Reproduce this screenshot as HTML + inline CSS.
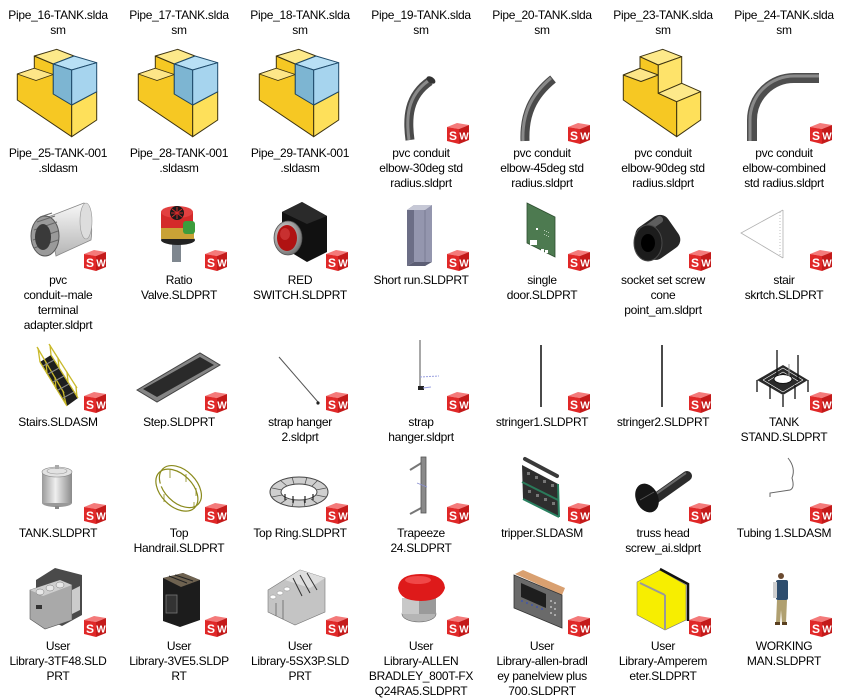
<!DOCTYPE html>
<html><head><meta charset="utf-8">
<style>
html,body{margin:0;padding:0;background:#fff;}
body{width:849px;height:698px;position:relative;overflow:hidden;}
.l{position:absolute;width:120px;text-align:center;font-family:"Liberation Sans",Arial,sans-serif;font-size:12px;line-height:15px;color:#000;white-space:nowrap;letter-spacing:-0.3px;}
svg{position:absolute;left:0;top:0;}
</style></head><body>
<svg width="849" height="698" viewBox="0 0 849 698" xmlns="http://www.w3.org/2000/svg">
<defs>
<linearGradient id="gcyl" x1="0" x2="1" y1="0" y2="0"><stop offset="0" stop-color="#9a9a9a"/><stop offset="0.45" stop-color="#efefef"/><stop offset="1" stop-color="#8a8a8a"/></linearGradient>
<linearGradient id="gwhite" x1="0" x2="0" y1="0" y2="1"><stop offset="0" stop-color="#f8f8f8"/><stop offset="1" stop-color="#b5b5b5"/></linearGradient>
<radialGradient id="gsilver" cx="0.4" cy="0.4" r="0.6"><stop offset="0" stop-color="#eee"/><stop offset="1" stop-color="#777"/></radialGradient>
</defs>

<!-- Row1 assembly icons -->
<g stroke-linejoin="round">
<polygon points="17.3,74 17.3,100 71.7,136.7 71.7,105 53.3,94 53.3,64 34.3,56 34.3,68.3" fill="#f6c823" stroke="#3d3310" stroke-width="1"/>
<polygon points="17.3,74 34.3,68.3 53.3,74.5 36,80.5" fill="#fde688" stroke="#3d3310" stroke-width="0.8"/>
<polygon points="34.3,56 56.7,49.3 74,56 53.3,64" fill="#fde98a" stroke="#3d3310" stroke-width="1"/>
<polygon points="71.7,105 96.7,91.7 96.7,120 71.7,136.7" fill="#fee05a" stroke="#3d3310" stroke-width="1"/>
<polygon points="53.3,64 74,56 96.7,62.7 71.7,70" fill="#b8e0f5" stroke="#1e4a6a" stroke-width="1"/>
<polygon points="53.3,64 71.7,70 71.7,105 53.3,94" fill="#7db5d2" stroke="#1e4a6a" stroke-width="1"/>
<polygon points="71.7,70 96.7,62.7 96.7,91.7 71.7,105" fill="#a6d4ee" stroke="#1e4a6a" stroke-width="1"/>
</g>
<g transform="translate(121,0)" stroke-linejoin="round">
<polygon points="17.3,74 17.3,100 71.7,136.7 71.7,105 53.3,94 53.3,64 34.3,56 34.3,68.3" fill="#f6c823" stroke="#3d3310" stroke-width="1"/>
<polygon points="17.3,74 34.3,68.3 53.3,74.5 36,80.5" fill="#fde688" stroke="#3d3310" stroke-width="0.8"/>
<polygon points="34.3,56 56.7,49.3 74,56 53.3,64" fill="#fde98a" stroke="#3d3310" stroke-width="1"/>
<polygon points="71.7,105 96.7,91.7 96.7,120 71.7,136.7" fill="#fee05a" stroke="#3d3310" stroke-width="1"/>
<polygon points="53.3,64 74,56 96.7,62.7 71.7,70" fill="#b8e0f5" stroke="#1e4a6a" stroke-width="1"/>
<polygon points="53.3,64 71.7,70 71.7,105 53.3,94" fill="#7db5d2" stroke="#1e4a6a" stroke-width="1"/>
<polygon points="71.7,70 96.7,62.7 96.7,91.7 71.7,105" fill="#a6d4ee" stroke="#1e4a6a" stroke-width="1"/>
</g>
<g transform="translate(242,0)" stroke-linejoin="round">
<polygon points="17.3,74 17.3,100 71.7,136.7 71.7,105 53.3,94 53.3,64 34.3,56 34.3,68.3" fill="#f6c823" stroke="#3d3310" stroke-width="1"/>
<polygon points="17.3,74 34.3,68.3 53.3,74.5 36,80.5" fill="#fde688" stroke="#3d3310" stroke-width="0.8"/>
<polygon points="34.3,56 56.7,49.3 74,56 53.3,64" fill="#fde98a" stroke="#3d3310" stroke-width="1"/>
<polygon points="71.7,105 96.7,91.7 96.7,120 71.7,136.7" fill="#fee05a" stroke="#3d3310" stroke-width="1"/>
<polygon points="53.3,64 74,56 96.7,62.7 71.7,70" fill="#b8e0f5" stroke="#1e4a6a" stroke-width="1"/>
<polygon points="53.3,64 71.7,70 71.7,105 53.3,94" fill="#7db5d2" stroke="#1e4a6a" stroke-width="1"/>
<polygon points="71.7,70 96.7,62.7 96.7,91.7 71.7,105" fill="#a6d4ee" stroke="#1e4a6a" stroke-width="1"/>
</g>

<!-- pvc elbows -->
<path d="M410 140 C407 118,408 96,430 81" stroke="#4a4a4a" stroke-width="9" fill="none"/>
<path d="M409 140 C406 118,407 96,428 81" stroke="#8a8a8a" stroke-width="3" fill="none"/>
<ellipse cx="431" cy="80" rx="5" ry="3" fill="#333" transform="rotate(35 431 80)"/>
<path d="M525 141 C524 115,532 96,553 79" stroke="#4a4a4a" stroke-width="9" fill="none"/>
<path d="M523 141 C522 115,530 96,551 78" stroke="#8a8a8a" stroke-width="3" fill="none"/>
<path d="M752 141 L752 120 A42 42 0 0 1 794 78 L819 78" stroke="#4e4e4e" stroke-width="10" fill="none"/>
<path d="M750 141 L750 120 A44 44 0 0 1 794 76 L819 76" stroke="#8a8a8a" stroke-width="3" fill="none"/>

<!-- yellow T part col5 -->
<g stroke="#3d3310" stroke-width="1" stroke-linejoin="round">
<polygon points="623.3,75 623.3,100 676.7,136.7 676.7,101.7 658.3,93.3 658.3,65 640,56.7 640,68.3" fill="#f6c823"/>
<polygon points="623.3,75 640,68.3 658.3,75 641,81.5" fill="#fde688"/>
<polygon points="640,56.7 662.7,49.3 681.7,56.7 658.3,65" fill="#fde98a"/>
<polygon points="658.3,65 681.7,56.7 681.7,83.3 658.3,93.3" fill="#fee36a"/>
<polygon points="658.3,93.3 681.7,83.3 700.7,91.7 676.7,101.7" fill="#fde98a"/>
<polygon points="676.7,101.7 700.7,91.7 700.7,120 676.7,136.7" fill="#fee05a"/>
</g>

<!-- Row2 icons -->
<!-- male adapter -->
<path d="M48 217 L84 203 Q94 220 91 240 L56 256 Z" fill="url(#gwhite)" stroke="#888" stroke-width="0.8"/>
<ellipse cx="86" cy="221" rx="6" ry="18" fill="#ddd" stroke="#999" stroke-width="0.6"/>
<ellipse cx="45" cy="236" rx="14" ry="20" fill="#9a9a9a" stroke="#555" stroke-width="1"/>
<g stroke="#666" stroke-width="1"><line x1="40" y1="217" x2="52" y2="213"/><line x1="37" y1="222" x2="55" y2="216"/><line x1="34" y1="230" x2="57" y2="222"/><line x1="33" y1="240" x2="58" y2="231"/><line x1="34" y1="248" x2="58" y2="240"/></g>
<ellipse cx="43" cy="237" rx="8" ry="13" fill="#3a3a3a"/>
<!-- ratio valve -->
<rect x="172" y="243" width="9" height="19" fill="#7f878f"/>
<ellipse cx="178" cy="240" rx="17" ry="5" fill="#222"/>
<rect x="161" y="226" width="33" height="13" fill="#c9a236"/>
<rect x="161" y="212" width="32" height="16" fill="#d42a2a"/>
<ellipse cx="177" cy="212" rx="16" ry="6" fill="#e24040"/>
<circle cx="177" cy="213" r="7" fill="#1a1a1a"/>
<g stroke="#d42a2a" stroke-width="1"><line x1="171" y1="213" x2="183" y2="213"/><line x1="177" y1="207" x2="177" y2="219"/><line x1="172" y1="209" x2="182" y2="217"/><line x1="182" y1="209" x2="172" y2="217"/></g>
<rect x="183" y="221" width="12" height="13" rx="3" fill="#3c9c3c"/>
<!-- red switch -->
<polygon points="282,212 302,202 327,216 327,252 307,262 282,247" fill="#111"/>
<polygon points="282,212 302,202 327,216 307,224" fill="#2a2a2a"/>
<ellipse cx="288" cy="238" rx="14" ry="17" fill="url(#gsilver)" stroke="#555" stroke-width="0.8"/>
<ellipse cx="287" cy="238" rx="10" ry="13" fill="#b01212"/>
<ellipse cx="285" cy="234" rx="5" ry="6" fill="#c83030"/>
<!-- short run -->
<polygon points="407,210 414,205 414,262 407,266" fill="#6c6e86"/>
<rect x="414" y="205" width="18" height="57" fill="#9496ae"/>
<polygon points="407,210 414,205 432,205 425,210" fill="#c6c8d6"/>
<line x1="425" y1="210" x2="425" y2="266" stroke="#7a7c94" stroke-width="1"/>
<polygon points="407,266 414,262 432,262 425,266" fill="#5c5e74"/>
<!-- single door -->
<polygon points="527,203 555,217 555,257 527,243" fill="#4d7a50" stroke="#2e4e30" stroke-width="0.8"/>
<g fill="#fff"><rect x="530" y="240" width="7" height="5"/><rect x="541" y="249" width="3" height="3"/><rect x="545" y="250" width="3" height="3"/><rect x="536" y="228" width="2" height="2"/></g>
<g fill="#b8cdb8"><rect x="544" y="230" width="1" height="1"/><rect x="546" y="231" width="1" height="1"/><rect x="548" y="232" width="1" height="1"/><rect x="544" y="234" width="1" height="1"/><rect x="546" y="235" width="1" height="1"/><rect x="548" y="236" width="1" height="1"/></g>
<!-- socket set screw -->
<g transform="rotate(-35 658 236)"><rect x="638" y="218" width="38" height="38" rx="10" fill="#262626"/><rect x="642" y="220" width="30" height="7" rx="3" fill="#5e5e5e"/></g>
<ellipse cx="648" cy="243" rx="14" ry="18" fill="#1c1c1c" stroke="#4a4a4a" stroke-width="1"/>
<ellipse cx="648" cy="243" rx="7" ry="9" fill="#000"/>
<!-- stair sketch -->
<g stroke="#b0b0b0" stroke-width="0.8" fill="none"><polyline points="783,210 741,233 783,258"/><line x1="783" y1="210" x2="783" y2="258"/><line x1="780" y1="212" x2="780" y2="256" stroke-dasharray="1,2"/></g>

<!-- Row3 icons -->
<!-- stairs -->
<polygon points="40,362 51,355 78,398 67,406" fill="#1e1e1e"/>
<g stroke="#c9b92a" stroke-width="1.3" fill="none"><line x1="37" y1="347" x2="64" y2="393"/><line x1="49" y1="344" x2="77" y2="388"/><line x1="40" y1="362" x2="67" y2="406"/><line x1="51" y1="355" x2="78" y2="398"/>
<line x1="38" y1="348" x2="40" y2="362"/><line x1="46" y1="362" x2="47" y2="374"/><line x1="55" y1="377" x2="56" y2="389"/><line x1="63" y1="391" x2="66" y2="404"/><line x1="50" y1="345" x2="51" y2="355"/><line x1="58" y1="358" x2="59" y2="368"/><line x1="67" y1="372" x2="68" y2="382"/><line x1="76" y1="387" x2="77" y2="397"/></g>
<g stroke="#888" stroke-width="1"><line x1="43" y1="366" x2="54" y2="360"/><line x1="48" y1="374" x2="59" y2="368"/><line x1="53" y1="382" x2="64" y2="376"/><line x1="58" y1="390" x2="69" y2="384"/><line x1="63" y1="398" x2="74" y2="392"/></g>
<!-- step -->
<polygon points="137,390 200,353 220,365 157,402" fill="#858585" stroke="#444" stroke-width="1"/>
<polygon points="143,389 200,357 214,365 157,397" fill="#2a2a2a"/>
<!-- strap hanger 2 -->
<line x1="279" y1="357" x2="318" y2="402" stroke="#555" stroke-width="1"/>
<circle cx="318" cy="403" r="1.6" fill="#222"/>
<!-- strap hanger -->
<line x1="420" y1="340" x2="420" y2="389" stroke="#8a8a8a" stroke-width="1.5"/>
<rect x="418" y="386" width="6" height="4" fill="#222"/>
<line x1="420" y1="377" x2="439" y2="376" stroke="#9aa0e0" stroke-width="1" stroke-dasharray="2,1"/>
<line x1="423" y1="388" x2="431" y2="387" stroke="#9aa0e0" stroke-width="1"/>
<!-- stringers -->
<line x1="541" y1="345" x2="541" y2="407" stroke="#4a4a4a" stroke-width="2"/>
<line x1="662" y1="345" x2="662" y2="407" stroke="#4a4a4a" stroke-width="2"/>
<!-- tank stand -->
<polygon points="757,380 783,365 808,380 783,395" fill="#2a2a2a"/>
<g stroke="#fff" stroke-width="0.6"><line x1="763" y1="380" x2="783" y2="368"/><line x1="768" y1="381" x2="783" y2="372"/><line x1="803" y1="380" x2="783" y2="368"/><line x1="798" y1="381" x2="783" y2="372"/><line x1="763" y1="380" x2="783" y2="392"/><line x1="803" y1="380" x2="783" y2="392"/></g>
<ellipse cx="783" cy="379" rx="9" ry="4.5" fill="#fff" stroke="#111" stroke-width="1"/>
<g stroke="#111" stroke-width="1.3"><line x1="757" y1="380" x2="757" y2="392"/><line x1="770" y1="385" x2="770" y2="399"/><line x1="783" y1="395" x2="783" y2="407"/><line x1="795" y1="385" x2="795" y2="399"/><line x1="808" y1="380" x2="808" y2="392"/><line x1="777" y1="350" x2="777" y2="375"/><line x1="798" y1="355" x2="798" y2="380"/></g>
<line x1="789" y1="364" x2="789" y2="376" stroke="#999" stroke-width="1"/>

<!-- Row4 icons -->
<!-- tank -->
<ellipse cx="57" cy="503" rx="15" ry="4" fill="#999"/>
<rect x="42" y="472" width="30" height="31" fill="url(#gcyl)"/>
<ellipse cx="57" cy="472" rx="15" ry="5" fill="#e2e2e2" stroke="#888" stroke-width="0.6"/>
<ellipse cx="57" cy="471" rx="10" ry="3" fill="none" stroke="#999" stroke-width="0.6"/>
<rect x="55" y="465" width="4" height="4" fill="#aaa"/>
<rect x="55" y="506" width="4" height="3" fill="#888"/>
<!-- top handrail -->
<g fill="none" stroke="#8a8a1c" stroke-width="1.2" transform="rotate(45 179 488)">
<ellipse cx="179" cy="486" rx="25" ry="16"/><ellipse cx="179" cy="491" rx="25" ry="16"/>
</g>
<g stroke="#8a8a1c" stroke-width="0.8"><line x1="170" y1="470" x2="170" y2="478"/><line x1="186" y1="474" x2="186" y2="482"/><line x1="196" y1="488" x2="196" y2="496"/><line x1="194" y1="502" x2="194" y2="509"/><line x1="164" y1="494" x2="164" y2="502"/></g>
<line x1="158" y1="486" x2="169" y2="482" stroke="#fff" stroke-width="3"/>
<!-- top ring -->
<path d="M270 492 A29 15 0 1 0 328 492 A29 15 0 1 0 270 492 Z M281 492 A18 8 0 1 1 317 492 A18 8 0 1 1 281 492 Z" fill="#cfcfcf" fill-rule="evenodd" stroke="#444" stroke-width="1"/>
<g stroke="#555" stroke-width="0.8"><line x1="272" y1="488" x2="282" y2="490"/><line x1="280" y1="480" x2="287" y2="486"/><line x1="292" y1="477" x2="294" y2="484"/><line x1="307" y1="477" x2="305" y2="484"/><line x1="318" y1="480" x2="312" y2="486"/><line x1="326" y1="488" x2="316" y2="490"/><line x1="326" y1="497" x2="316" y2="495"/><line x1="318" y1="504" x2="311" y2="499"/><line x1="305" y1="507" x2="304" y2="500"/><line x1="292" y1="507" x2="294" y2="500"/><line x1="280" y1="504" x2="287" y2="499"/><line x1="272" y1="497" x2="282" y2="495"/></g>
<g stroke="#222" stroke-width="1.2"><line x1="285" y1="494" x2="285" y2="500"/><line x1="293" y1="496" x2="293" y2="503"/><line x1="305" y1="496" x2="305" y2="503"/><line x1="313" y1="494" x2="313" y2="500"/></g>
<!-- trapeeze -->
<line x1="410" y1="470" x2="423" y2="462" stroke="#777" stroke-width="2"/>
<line x1="410" y1="514" x2="423" y2="507" stroke="#777" stroke-width="2"/>
<rect x="421" y="457" width="5" height="56" fill="#8a8a8a" stroke="#555" stroke-width="0.8"/>
<line x1="417" y1="483" x2="427" y2="487" stroke="#8a90d0" stroke-width="0.8"/>
<!-- tripper -->
<line x1="525" y1="459" x2="557" y2="476" stroke="#3a3a3a" stroke-width="4" stroke-linecap="round"/>
<polygon points="522,465 558,484 559,517 523,499" fill="#2e2e2e"/>
<line x1="523" y1="499" x2="559" y2="517" stroke="#2a8060" stroke-width="2"/>
<line x1="558" y1="484" x2="559" y2="517" stroke="#2a8060" stroke-width="2"/>
<line x1="522" y1="482" x2="558" y2="500" stroke="#2a7a5a" stroke-width="2"/>
<g fill="#777"><rect x="527" y="472" width="3" height="3"/><rect x="535" y="476" width="3" height="3"/><rect x="543" y="480" width="3" height="3"/><rect x="551" y="484" width="3" height="3"/><rect x="528" y="490" width="3" height="3"/><rect x="536" y="494" width="3" height="3"/><rect x="544" y="498" width="3" height="3"/><rect x="552" y="502" width="3" height="3"/></g>
<!-- truss head screw -->
<line x1="656" y1="498" x2="687" y2="476" stroke="#2c2c2c" stroke-width="10" stroke-linecap="round"/>
<line x1="656" y1="494" x2="686" y2="473" stroke="#6a6a6a" stroke-width="2"/>
<ellipse cx="647" cy="498" rx="11" ry="15" fill="#161616" transform="rotate(-25 647 498)"/>
<line x1="640" y1="500" x2="654" y2="492" stroke="#555" stroke-width="1"/>
<!-- tubing -->
<path d="M788 458 Q796 468 792 478 Q795 488 790 490 L770 493 L770 497" stroke="#666" stroke-width="1" fill="none"/>

<!-- Row5 icons -->
<!-- 3TF48 -->
<polygon points="36,580 55,568 82,575 82,615 62,626 36,614" fill="#4a4a4a"/>
<polygon points="30,590 60,580 72,585 72,620 45,629 30,619" fill="#a9a9a9" stroke="#555" stroke-width="0.6"/>
<polygon points="30,590 60,580 72,585 43,596" fill="#cfcfcf"/>
<g fill="#e8e8e8" stroke="#777" stroke-width="0.5"><ellipse cx="40" cy="592" rx="4" ry="3"/><ellipse cx="50" cy="588" rx="4" ry="3"/><ellipse cx="60" cy="585" rx="4" ry="3"/></g>
<rect x="36" y="605" width="6" height="4" fill="#333"/>
<polygon points="72,590 80,586 80,610 72,614" fill="#ccc"/>
<!-- 3VE5 -->
<polygon points="163,578 183,573 200,580 200,620 180,627 163,621" fill="#1c1c1c"/>
<polygon points="163,578 183,573 200,580 181,587" fill="#6e6250"/>
<g stroke="#222" stroke-width="1"><line x1="169" y1="576" x2="187" y2="583"/><line x1="175" y1="575" x2="193" y2="581"/></g>
<rect x="166" y="595" width="11" height="18" fill="#333" stroke="#777" stroke-width="0.8"/>
<!-- 5SX3P -->
<polygon points="268,590 300,570 325,578 325,612 295,625 268,612" fill="#c4c4c4" stroke="#777" stroke-width="0.6"/>
<polygon points="285,580 300,570 325,578 310,588" fill="#dedede"/>
<g stroke="#333" stroke-width="1"><line x1="293" y1="578" x2="302" y2="596"/><line x1="300" y1="575" x2="310" y2="593"/><line x1="307" y1="573" x2="317" y2="590"/></g>
<g fill="#fff" stroke="#888" stroke-width="0.5"><ellipse cx="273" cy="597" rx="3" ry="2"/><ellipse cx="280" cy="593" rx="3" ry="2"/><ellipse cx="287" cy="589" rx="3" ry="2"/></g>
<line x1="283" y1="600" x2="283" y2="619" stroke="#666" stroke-width="0.8"/>
<line x1="276" y1="603" x2="276" y2="616" stroke="#666" stroke-width="0.8"/>
<!-- Allen Bradley button -->
<ellipse cx="419" cy="614" rx="17" ry="8" fill="#b5b5b5" stroke="#666" stroke-width="0.6"/>
<rect x="402" y="598" width="34" height="16" fill="#9a9a9a"/>
<rect x="402" y="598" width="17" height="16" fill="#c8c8c8"/>
<path d="M398 588 Q399 574 421 574 Q444 574 445 588 Q441 601 421 601 Q400 601 398 588 Z" fill="#de1a1a"/>
<ellipse cx="418" cy="580" rx="13" ry="4" fill="#f04848"/>
<!-- panelview -->
<polygon points="515,574 523,570 565,588 562,595" fill="#d9a070"/>
<polygon points="514,575 562,595 562,628 514,608" fill="#6a6a6a" stroke="#333" stroke-width="0.8"/>
<polygon points="521,583 546,594 546,608 521,597" fill="#1e1e1e"/>
<g fill="#4a5a9a"><rect x="521" y="600" width="2" height="2"/><rect x="526" y="602" width="2" height="2"/><rect x="531" y="604" width="2" height="2"/><rect x="536" y="606" width="2" height="2"/><rect x="541" y="608" width="2" height="2"/></g>
<g fill="#aaa"><rect x="550" y="600" width="2" height="2"/><rect x="554" y="602" width="2" height="2"/><rect x="550" y="606" width="2" height="2"/><rect x="554" y="608" width="2" height="2"/><rect x="550" y="612" width="2" height="2"/><rect x="554" y="614" width="2" height="2"/></g>
<!-- amperemeter -->
<polygon points="637,582 660,570 686,585 686,620 665,630 637,615" fill="#f7ee00" stroke="#777" stroke-width="0.6"/>
<line x1="640" y1="583" x2="665" y2="595" stroke="#999" stroke-width="2"/>
<line x1="665" y1="595" x2="665" y2="629" stroke="#999" stroke-width="2"/>
<polyline points="660,569 688,584 688,621" fill="none" stroke="#111" stroke-width="2.5"/>
<!-- working man -->
<circle cx="781" cy="576" r="3" fill="#6b4a30"/>
<rect x="776" y="580" width="12" height="20" rx="2" fill="#2d4d6d"/>
<rect x="773" y="582" width="4" height="16" fill="#cfcfcf"/>
<polygon points="777,600 787,600 786,623 782,623 781,610 780,623 776,623" fill="#b0a070"/>
<rect x="775" y="622" width="5" height="3" fill="#5a4020"/>
<rect x="782" y="622" width="5" height="3" fill="#5a4020"/>

<!-- SW badges -->
<g font-family="Liberation Sans, Arial, sans-serif" font-weight="bold" fill="#fff" text-anchor="middle">
<g transform="translate(446,121)"><polygon points="1,6 11,2 23,4 13,8" fill="#f47a7a"/><polygon points="1,6 13,8 13,23 1,20" fill="#e02828"/><polygon points="13,8 23,4 23,19 13,23" fill="#c41a1a"/><text x="7" y="19" font-size="12">S</text><text x="18" y="18.5" font-size="10">W</text></g>
<g transform="translate(567,121)"><polygon points="1,6 11,2 23,4 13,8" fill="#f47a7a"/><polygon points="1,6 13,8 13,23 1,20" fill="#e02828"/><polygon points="13,8 23,4 23,19 13,23" fill="#c41a1a"/><text x="7" y="19" font-size="12">S</text><text x="18" y="18.5" font-size="10">W</text></g>
<g transform="translate(809,121)"><polygon points="1,6 11,2 23,4 13,8" fill="#f47a7a"/><polygon points="1,6 13,8 13,23 1,20" fill="#e02828"/><polygon points="13,8 23,4 23,19 13,23" fill="#c41a1a"/><text x="7" y="19" font-size="12">S</text><text x="18" y="18.5" font-size="10">W</text></g>

<g transform="translate(83,248)"><polygon points="1,6 11,2 23,4 13,8" fill="#f47a7a"/><polygon points="1,6 13,8 13,23 1,20" fill="#e02828"/><polygon points="13,8 23,4 23,19 13,23" fill="#c41a1a"/><text x="7" y="19" font-size="12">S</text><text x="18" y="18.5" font-size="10">W</text></g>
<g transform="translate(204,248)"><polygon points="1,6 11,2 23,4 13,8" fill="#f47a7a"/><polygon points="1,6 13,8 13,23 1,20" fill="#e02828"/><polygon points="13,8 23,4 23,19 13,23" fill="#c41a1a"/><text x="7" y="19" font-size="12">S</text><text x="18" y="18.5" font-size="10">W</text></g>
<g transform="translate(325,248)"><polygon points="1,6 11,2 23,4 13,8" fill="#f47a7a"/><polygon points="1,6 13,8 13,23 1,20" fill="#e02828"/><polygon points="13,8 23,4 23,19 13,23" fill="#c41a1a"/><text x="7" y="19" font-size="12">S</text><text x="18" y="18.5" font-size="10">W</text></g>
<g transform="translate(446,248)"><polygon points="1,6 11,2 23,4 13,8" fill="#f47a7a"/><polygon points="1,6 13,8 13,23 1,20" fill="#e02828"/><polygon points="13,8 23,4 23,19 13,23" fill="#c41a1a"/><text x="7" y="19" font-size="12">S</text><text x="18" y="18.5" font-size="10">W</text></g>
<g transform="translate(567,248)"><polygon points="1,6 11,2 23,4 13,8" fill="#f47a7a"/><polygon points="1,6 13,8 13,23 1,20" fill="#e02828"/><polygon points="13,8 23,4 23,19 13,23" fill="#c41a1a"/><text x="7" y="19" font-size="12">S</text><text x="18" y="18.5" font-size="10">W</text></g>
<g transform="translate(688,248)"><polygon points="1,6 11,2 23,4 13,8" fill="#f47a7a"/><polygon points="1,6 13,8 13,23 1,20" fill="#e02828"/><polygon points="13,8 23,4 23,19 13,23" fill="#c41a1a"/><text x="7" y="19" font-size="12">S</text><text x="18" y="18.5" font-size="10">W</text></g>
<g transform="translate(809,248)"><polygon points="1,6 11,2 23,4 13,8" fill="#f47a7a"/><polygon points="1,6 13,8 13,23 1,20" fill="#e02828"/><polygon points="13,8 23,4 23,19 13,23" fill="#c41a1a"/><text x="7" y="19" font-size="12">S</text><text x="18" y="18.5" font-size="10">W</text></g>

<g transform="translate(83,390)"><polygon points="1,6 11,2 23,4 13,8" fill="#f47a7a"/><polygon points="1,6 13,8 13,23 1,20" fill="#e02828"/><polygon points="13,8 23,4 23,19 13,23" fill="#c41a1a"/><text x="7" y="19" font-size="12">S</text><text x="18" y="18.5" font-size="10">W</text></g>
<g transform="translate(204,390)"><polygon points="1,6 11,2 23,4 13,8" fill="#f47a7a"/><polygon points="1,6 13,8 13,23 1,20" fill="#e02828"/><polygon points="13,8 23,4 23,19 13,23" fill="#c41a1a"/><text x="7" y="19" font-size="12">S</text><text x="18" y="18.5" font-size="10">W</text></g>
<g transform="translate(325,390)"><polygon points="1,6 11,2 23,4 13,8" fill="#f47a7a"/><polygon points="1,6 13,8 13,23 1,20" fill="#e02828"/><polygon points="13,8 23,4 23,19 13,23" fill="#c41a1a"/><text x="7" y="19" font-size="12">S</text><text x="18" y="18.5" font-size="10">W</text></g>
<g transform="translate(446,390)"><polygon points="1,6 11,2 23,4 13,8" fill="#f47a7a"/><polygon points="1,6 13,8 13,23 1,20" fill="#e02828"/><polygon points="13,8 23,4 23,19 13,23" fill="#c41a1a"/><text x="7" y="19" font-size="12">S</text><text x="18" y="18.5" font-size="10">W</text></g>
<g transform="translate(567,390)"><polygon points="1,6 11,2 23,4 13,8" fill="#f47a7a"/><polygon points="1,6 13,8 13,23 1,20" fill="#e02828"/><polygon points="13,8 23,4 23,19 13,23" fill="#c41a1a"/><text x="7" y="19" font-size="12">S</text><text x="18" y="18.5" font-size="10">W</text></g>
<g transform="translate(688,390)"><polygon points="1,6 11,2 23,4 13,8" fill="#f47a7a"/><polygon points="1,6 13,8 13,23 1,20" fill="#e02828"/><polygon points="13,8 23,4 23,19 13,23" fill="#c41a1a"/><text x="7" y="19" font-size="12">S</text><text x="18" y="18.5" font-size="10">W</text></g>
<g transform="translate(809,390)"><polygon points="1,6 11,2 23,4 13,8" fill="#f47a7a"/><polygon points="1,6 13,8 13,23 1,20" fill="#e02828"/><polygon points="13,8 23,4 23,19 13,23" fill="#c41a1a"/><text x="7" y="19" font-size="12">S</text><text x="18" y="18.5" font-size="10">W</text></g>

<g transform="translate(83,501)"><polygon points="1,6 11,2 23,4 13,8" fill="#f47a7a"/><polygon points="1,6 13,8 13,23 1,20" fill="#e02828"/><polygon points="13,8 23,4 23,19 13,23" fill="#c41a1a"/><text x="7" y="19" font-size="12">S</text><text x="18" y="18.5" font-size="10">W</text></g>
<g transform="translate(204,501)"><polygon points="1,6 11,2 23,4 13,8" fill="#f47a7a"/><polygon points="1,6 13,8 13,23 1,20" fill="#e02828"/><polygon points="13,8 23,4 23,19 13,23" fill="#c41a1a"/><text x="7" y="19" font-size="12">S</text><text x="18" y="18.5" font-size="10">W</text></g>
<g transform="translate(325,501)"><polygon points="1,6 11,2 23,4 13,8" fill="#f47a7a"/><polygon points="1,6 13,8 13,23 1,20" fill="#e02828"/><polygon points="13,8 23,4 23,19 13,23" fill="#c41a1a"/><text x="7" y="19" font-size="12">S</text><text x="18" y="18.5" font-size="10">W</text></g>
<g transform="translate(446,501)"><polygon points="1,6 11,2 23,4 13,8" fill="#f47a7a"/><polygon points="1,6 13,8 13,23 1,20" fill="#e02828"/><polygon points="13,8 23,4 23,19 13,23" fill="#c41a1a"/><text x="7" y="19" font-size="12">S</text><text x="18" y="18.5" font-size="10">W</text></g>
<g transform="translate(567,501)"><polygon points="1,6 11,2 23,4 13,8" fill="#f47a7a"/><polygon points="1,6 13,8 13,23 1,20" fill="#e02828"/><polygon points="13,8 23,4 23,19 13,23" fill="#c41a1a"/><text x="7" y="19" font-size="12">S</text><text x="18" y="18.5" font-size="10">W</text></g>
<g transform="translate(688,501)"><polygon points="1,6 11,2 23,4 13,8" fill="#f47a7a"/><polygon points="1,6 13,8 13,23 1,20" fill="#e02828"/><polygon points="13,8 23,4 23,19 13,23" fill="#c41a1a"/><text x="7" y="19" font-size="12">S</text><text x="18" y="18.5" font-size="10">W</text></g>
<g transform="translate(809,501)"><polygon points="1,6 11,2 23,4 13,8" fill="#f47a7a"/><polygon points="1,6 13,8 13,23 1,20" fill="#e02828"/><polygon points="13,8 23,4 23,19 13,23" fill="#c41a1a"/><text x="7" y="19" font-size="12">S</text><text x="18" y="18.5" font-size="10">W</text></g>

<g transform="translate(83,614)"><polygon points="1,6 11,2 23,4 13,8" fill="#f47a7a"/><polygon points="1,6 13,8 13,23 1,20" fill="#e02828"/><polygon points="13,8 23,4 23,19 13,23" fill="#c41a1a"/><text x="7" y="19" font-size="12">S</text><text x="18" y="18.5" font-size="10">W</text></g>
<g transform="translate(204,614)"><polygon points="1,6 11,2 23,4 13,8" fill="#f47a7a"/><polygon points="1,6 13,8 13,23 1,20" fill="#e02828"/><polygon points="13,8 23,4 23,19 13,23" fill="#c41a1a"/><text x="7" y="19" font-size="12">S</text><text x="18" y="18.5" font-size="10">W</text></g>
<g transform="translate(325,614)"><polygon points="1,6 11,2 23,4 13,8" fill="#f47a7a"/><polygon points="1,6 13,8 13,23 1,20" fill="#e02828"/><polygon points="13,8 23,4 23,19 13,23" fill="#c41a1a"/><text x="7" y="19" font-size="12">S</text><text x="18" y="18.5" font-size="10">W</text></g>
<g transform="translate(446,614)"><polygon points="1,6 11,2 23,4 13,8" fill="#f47a7a"/><polygon points="1,6 13,8 13,23 1,20" fill="#e02828"/><polygon points="13,8 23,4 23,19 13,23" fill="#c41a1a"/><text x="7" y="19" font-size="12">S</text><text x="18" y="18.5" font-size="10">W</text></g>
<g transform="translate(567,614)"><polygon points="1,6 11,2 23,4 13,8" fill="#f47a7a"/><polygon points="1,6 13,8 13,23 1,20" fill="#e02828"/><polygon points="13,8 23,4 23,19 13,23" fill="#c41a1a"/><text x="7" y="19" font-size="12">S</text><text x="18" y="18.5" font-size="10">W</text></g>
<g transform="translate(688,614)"><polygon points="1,6 11,2 23,4 13,8" fill="#f47a7a"/><polygon points="1,6 13,8 13,23 1,20" fill="#e02828"/><polygon points="13,8 23,4 23,19 13,23" fill="#c41a1a"/><text x="7" y="19" font-size="12">S</text><text x="18" y="18.5" font-size="10">W</text></g>
<g transform="translate(809,614)"><polygon points="1,6 11,2 23,4 13,8" fill="#f47a7a"/><polygon points="1,6 13,8 13,23 1,20" fill="#e02828"/><polygon points="13,8 23,4 23,19 13,23" fill="#c41a1a"/><text x="7" y="19" font-size="12">S</text><text x="18" y="18.5" font-size="10">W</text></g>
</g>
</svg>

<!-- Row 0 labels -->
<div class="l" style="left:-2px;top:7.5px">Pipe_16-TANK.slda<br>sm</div>
<div class="l" style="left:119px;top:7.5px">Pipe_17-TANK.slda<br>sm</div>
<div class="l" style="left:240px;top:7.5px">Pipe_18-TANK.slda<br>sm</div>
<div class="l" style="left:361px;top:7.5px">Pipe_19-TANK.slda<br>sm</div>
<div class="l" style="left:482px;top:7.5px">Pipe_20-TANK.slda<br>sm</div>
<div class="l" style="left:603px;top:7.5px">Pipe_23-TANK.slda<br>sm</div>
<div class="l" style="left:724px;top:7.5px">Pipe_24-TANK.slda<br>sm</div>

<!-- Row 1 -->
<div class="l" style="left:-2px;top:146px">Pipe_25-TANK-001<br>.sldasm</div>
<div class="l" style="left:119px;top:146px">Pipe_28-TANK-001<br>.sldasm</div>
<div class="l" style="left:240px;top:146px">Pipe_29-TANK-001<br>.sldasm</div>
<div class="l" style="left:361px;top:146px">pvc conduit<br>elbow-30deg std<br>radius.sldprt</div>
<div class="l" style="left:482px;top:146px">pvc conduit<br>elbow-45deg std<br>radius.sldprt</div>
<div class="l" style="left:603px;top:146px">pvc conduit<br>elbow-90deg std<br>radius.sldprt</div>
<div class="l" style="left:724px;top:146px">pvc conduit<br>elbow-combined<br>std radius.sldprt</div>

<!-- Row 2 -->
<div class="l" style="left:-2px;top:272.5px">pvc<br>conduit--male<br>terminal<br>adapter.sldprt</div>
<div class="l" style="left:119px;top:272.5px">Ratio<br>Valve.SLDPRT</div>
<div class="l" style="left:240px;top:272.5px">RED<br>SWITCH.SLDPRT</div>
<div class="l" style="left:361px;top:272.5px">Short run.SLDPRT</div>
<div class="l" style="left:482px;top:272.5px">single<br>door.SLDPRT</div>
<div class="l" style="left:603px;top:272.5px">socket set screw<br>cone<br>point_am.sldprt</div>
<div class="l" style="left:724px;top:272.5px">stair<br>skrtch.SLDPRT</div>

<!-- Row 3 -->
<div class="l" style="left:-2px;top:414.5px">Stairs.SLDASM</div>
<div class="l" style="left:119px;top:414.5px">Step.SLDPRT</div>
<div class="l" style="left:240px;top:414.5px">strap hanger<br>2.sldprt</div>
<div class="l" style="left:361px;top:414.5px">strap<br>hanger.sldprt</div>
<div class="l" style="left:482px;top:414.5px">stringer1.SLDPRT</div>
<div class="l" style="left:603px;top:414.5px">stringer2.SLDPRT</div>
<div class="l" style="left:724px;top:414.5px">TANK<br>STAND.SLDPRT</div>

<!-- Row 4 -->
<div class="l" style="left:-2px;top:526px">TANK.SLDPRT</div>
<div class="l" style="left:119px;top:526px">Top<br>Handrail.SLDPRT</div>
<div class="l" style="left:240px;top:526px">Top Ring.SLDPRT</div>
<div class="l" style="left:361px;top:526px">Trapeeze<br>24.SLDPRT</div>
<div class="l" style="left:482px;top:526px">tripper.SLDASM</div>
<div class="l" style="left:603px;top:526px">truss head<br>screw_ai.sldprt</div>
<div class="l" style="left:724px;top:526px">Tubing 1.SLDASM</div>

<!-- Row 5 -->
<div class="l" style="left:-2px;top:638.5px">User<br>Library-3TF48.SLD<br>PRT</div>
<div class="l" style="left:119px;top:638.5px">User<br>Library-3VE5.SLDP<br>RT</div>
<div class="l" style="left:240px;top:638.5px">User<br>Library-5SX3P.SLD<br>PRT</div>
<div class="l" style="left:361px;top:638.5px">User<br>Library-ALLEN<br>BRADLEY_800T-FX<br>Q24RA5.SLDPRT</div>
<div class="l" style="left:482px;top:638.5px">User<br>Library-allen-bradl<br>ey panelview plus<br>700.SLDPRT</div>
<div class="l" style="left:603px;top:638.5px">User<br>Library-Amperem<br>eter.SLDPRT</div>
<div class="l" style="left:724px;top:638.5px">WORKING<br>MAN.SLDPRT</div>
</body></html>
